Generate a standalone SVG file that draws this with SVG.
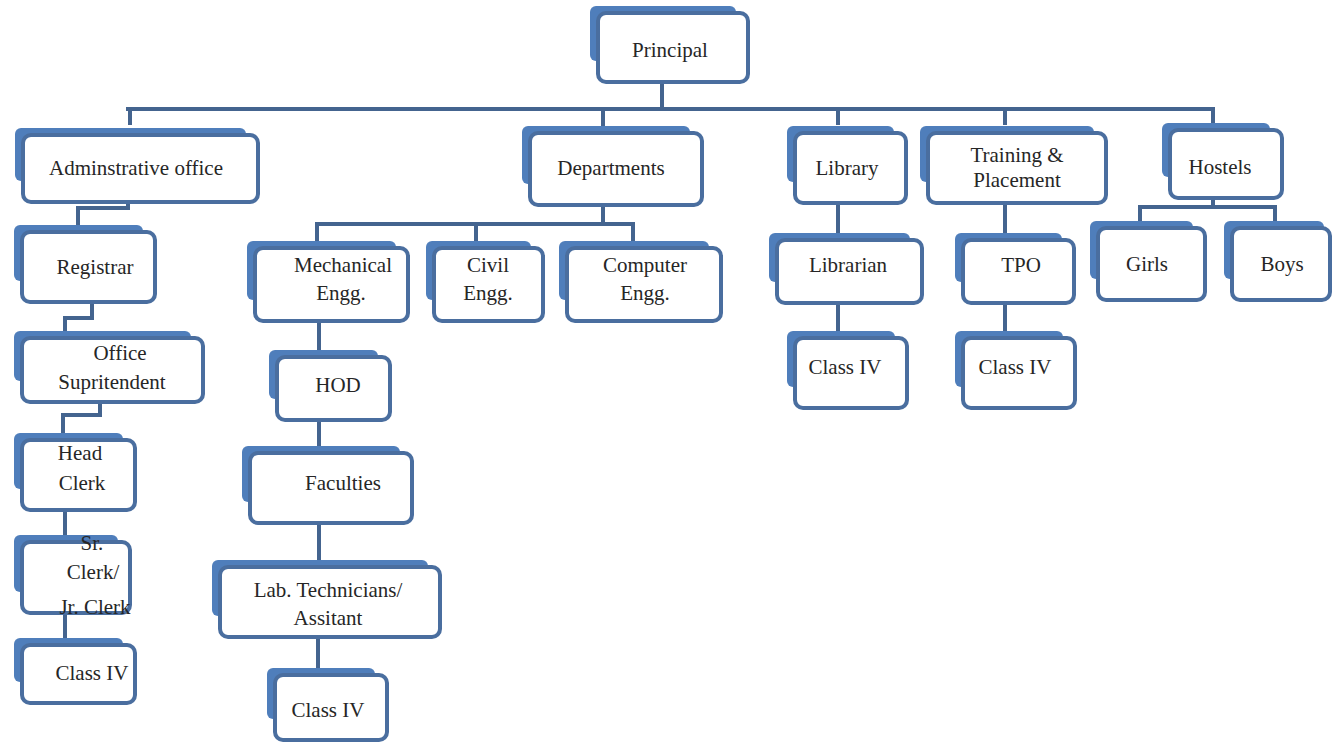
<svg xmlns="http://www.w3.org/2000/svg" width="1332" height="744" viewBox="0 0 1332 744">
<style>
.bk{fill:#4F7EBB;}
.fr{fill:#FFFFFF;stroke:#4A6E9F;stroke-width:4;}
.t{font-family:"Liberation Serif","Times New Roman",serif;font-size:21px;fill:#262626;text-anchor:middle;}
.c{fill:none;stroke:#44648F;stroke-width:4;stroke-linecap:square;}
</style>
<rect width="1332" height="744" fill="#FFFFFF"/>
<g id="connectors">
<path class="c" d="M662 82V109M128 109H1213M130 109V123M603 109V126M838 109V123M1005 109V123M1213 109V123"/>
<path class="c" d="M128 202V208H78V225M92 302V318H65V332M100 402V415H63V432M65 510V534M65 613V638"/>
<path class="c" d="M603 205V224M317 224H633M317 224V241M476 224V241M633 224V241"/>
<path class="c" d="M319 321V350M319 420V446M319 523V558M318 637V666"/>
<path class="c" d="M838 203V233M838 303V331M1005 203V233M1005 303V331"/>
<path class="c" d="M1213 198V207M1140 207H1275M1140 207V221M1275 207V221"/>
</g>
<g id="principal"><rect class="bk" x="590" y="6" width="146" height="55" rx="6"/><rect class="fr" x="598" y="13" width="150" height="69" rx="8"/><text class="t" x="670" y="57">Principal</text></g>
<g id="admin"><rect class="bk" x="15" y="128" width="231" height="53" rx="6"/><rect class="fr" x="23" y="135" width="235" height="67" rx="8"/><text class="t" x="136" y="175">Adminstrative office</text></g>
<g id="departments"><rect class="bk" x="522" y="126" width="168" height="58" rx="6"/><rect class="fr" x="530" y="133" width="172" height="72" rx="8"/><text class="t" x="611" y="175">Departments</text></g>
<g id="library"><rect class="bk" x="787" y="126" width="107" height="56" rx="6"/><rect class="fr" x="795" y="133" width="111" height="70" rx="8"/><text class="t" x="847" y="175">Library</text></g>
<g id="training"><rect class="bk" x="920" y="126" width="174" height="56" rx="6"/><rect class="fr" x="928" y="133" width="178" height="70" rx="8"/><text class="t" x="1017" y="162">Training &amp;</text><text class="t" x="1017" y="187">Placement</text></g>
<g id="hostels"><rect class="bk" x="1162" y="123" width="108" height="54" rx="6"/><rect class="fr" x="1170" y="130" width="112" height="68" rx="8"/><text class="t" x="1220" y="174">Hostels</text></g>
<g id="registrar"><rect class="bk" x="14" y="225" width="129" height="56" rx="6"/><rect class="fr" x="22" y="232" width="133" height="70" rx="8"/><text class="t" x="95" y="274">Registrar</text></g>
<g id="office-supritendent"><rect class="bk" x="14" y="331" width="177" height="50" rx="6"/><rect class="fr" x="22" y="338" width="181" height="64" rx="8"/><text class="t" x="120" y="360">Office</text><text class="t" x="112" y="389">Supritendent</text></g>
<g id="head-clerk"><rect class="bk" x="14" y="433" width="109" height="56" rx="6"/><rect class="fr" x="22" y="440" width="113" height="70" rx="8"/><text class="t" x="80" y="460">Head</text><text class="t" x="82" y="490">Clerk</text></g>
<g id="sr-clerk"><rect class="bk" x="14" y="535" width="104" height="57" rx="6"/><rect class="fr" x="22" y="542" width="108" height="71" rx="8"/><text class="t" x="92" y="550">Sr.</text><text class="t" x="93" y="579">Clerk/</text><text class="t" x="95" y="614">Jr. Clerk</text></g>
<g id="class-iv-admin"><rect class="bk" x="14" y="638" width="109" height="44" rx="6"/><rect class="fr" x="22" y="645" width="113" height="58" rx="8"/><text class="t" x="92" y="680">Class IV</text></g>
<g id="mechanical"><rect class="bk" x="247" y="241" width="149" height="59" rx="6"/><rect class="fr" x="255" y="248" width="153" height="73" rx="8"/><text class="t" x="343" y="272">Mechanical</text><text class="t" x="341" y="300">Engg.</text></g>
<g id="civil"><rect class="bk" x="426" y="241" width="105" height="59" rx="6"/><rect class="fr" x="434" y="248" width="109" height="73" rx="8"/><text class="t" x="488" y="272">Civil</text><text class="t" x="488" y="300">Engg.</text></g>
<g id="computer"><rect class="bk" x="559" y="241" width="150" height="59" rx="6"/><rect class="fr" x="567" y="248" width="154" height="73" rx="8"/><text class="t" x="645" y="272">Computer</text><text class="t" x="645" y="300">Engg.</text></g>
<g id="hod"><rect class="bk" x="269" y="350" width="109" height="49" rx="6"/><rect class="fr" x="277" y="357" width="113" height="63" rx="8"/><text class="t" x="338" y="392">HOD</text></g>
<g id="faculties"><rect class="bk" x="242" y="446" width="158" height="56" rx="6"/><rect class="fr" x="250" y="453" width="162" height="70" rx="8"/><text class="t" x="343" y="490">Faculties</text></g>
<g id="lab"><rect class="bk" x="212" y="560" width="216" height="56" rx="6"/><rect class="fr" x="220" y="567" width="220" height="70" rx="8"/><text class="t" x="328" y="597">Lab. Technicians/</text><text class="t" x="328" y="625">Assitant</text></g>
<g id="class-iv-mech"><rect class="bk" x="267" y="668" width="108" height="51" rx="6"/><rect class="fr" x="275" y="675" width="112" height="65" rx="8"/><text class="t" x="328" y="717">Class IV</text></g>
<g id="librarian"><rect class="bk" x="769" y="233" width="141" height="49" rx="6"/><rect class="fr" x="777" y="240" width="145" height="63" rx="8"/><text class="t" x="848" y="272">Librarian</text></g>
<g id="tpo"><rect class="bk" x="955" y="233" width="107" height="49" rx="6"/><rect class="fr" x="963" y="240" width="111" height="63" rx="8"/><text class="t" x="1021" y="272">TPO</text></g>
<g id="class-iv-lib"><rect class="bk" x="787" y="331" width="108" height="56" rx="6"/><rect class="fr" x="795" y="338" width="112" height="70" rx="8"/><text class="t" x="845" y="374">Class IV</text></g>
<g id="class-iv-tpo"><rect class="bk" x="955" y="331" width="108" height="56" rx="6"/><rect class="fr" x="963" y="338" width="112" height="70" rx="8"/><text class="t" x="1015" y="374">Class IV</text></g>
<g id="girls"><rect class="bk" x="1090" y="221" width="103" height="58" rx="6"/><rect class="fr" x="1098" y="228" width="107" height="72" rx="8"/><text class="t" x="1147" y="271">Girls</text></g>
<g id="boys"><rect class="bk" x="1224" y="221" width="100" height="58" rx="6"/><rect class="fr" x="1232" y="228" width="98" height="72" rx="8"/><text class="t" x="1282" y="271">Boys</text></g>
</svg>
